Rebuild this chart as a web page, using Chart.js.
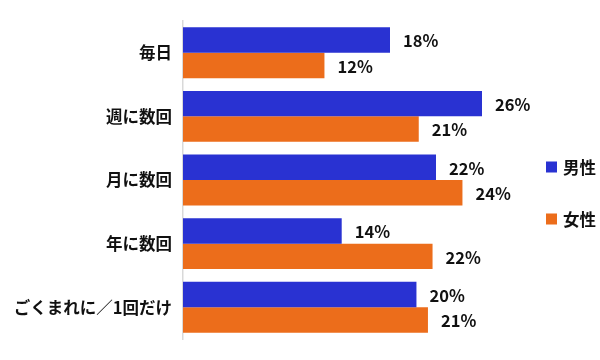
<!DOCTYPE html>
<html>
<head>
<meta charset="utf-8">
<script src="https://cdn.jsdelivr.net/npm/chart.js@4"></script>
<style>
  html, body { margin: 0; padding: 0; background: #fff; }
  #wrap { width: 600px; height: 360px; }
</style>
</head>
<body>
<div id="wrap"><canvas id="chart" width="600" height="360"></canvas></div>
<script>
// 頻度カテゴリ
const categories = ['毎日', '週に数回', '月に数回', '年に数回', 'ごくまれに／1回だけ'];
const seriesNames = ['男性', '女性'];
// 値（%）
const maleValues = [18, 26, 22, 13.8, 20.3];
const femaleValues = [12.3, 20.5, 24.3, 21.7, 21.3];
const colors = ['#2932D2', '#EC6D1B'];

const FONT = '"Noto Sans CJK JP", "Noto Sans", sans-serif';

// バー右側の数値ラベル
const valueLabels = {
    id: 'valueLabels',
    afterDatasetsDraw(chart) {
        const ctx = chart.ctx;
        ctx.save();
        ctx.font = 'bold 16.5px ' + FONT;
        ctx.fillStyle = '#111';
        ctx.textAlign = 'left';
        ctx.textBaseline = 'middle';
        chart.data.datasets.forEach((ds, i) => {
            chart.getDatasetMeta(i).data.forEach((bar, j) => {
                ctx.fillText(Math.round(ds.data[j]) + '%', bar.x + 13, bar.y + 1);
            });
        });
        ctx.restore();
    }
};

// 右側の凡例
const sideLegend = {
    id: 'sideLegend',
    afterDraw(chart) {
        const ctx = chart.ctx;
        const area = chart.chartArea;
        ctx.save();
        ctx.font = 'bold 16.5px ' + FONT;
        ctx.textBaseline = 'middle';
        chart.data.datasets.forEach((ds, i) => {
            const y = 167 + i * 52;
            const x = area.right + 18;
            ctx.fillStyle = ds.backgroundColor;
            ctx.fillRect(x, y - 5.5, 11, 11);
            ctx.fillStyle = '#111';
            ctx.fillText(ds.label, x + 17, y + 1);
        });
        ctx.restore();
    }
};

new Chart(document.getElementById('chart'), {
    type: 'bar',
    data: {
        labels: categories,
        datasets: [
            { label: seriesNames[0], data: maleValues, backgroundColor: colors[0] },
            { label: seriesNames[1], data: femaleValues, backgroundColor: colors[1] }
        ]
    },
    options: {
        indexAxis: 'y',
        responsive: false,
        animation: false,
        layout: { padding: { left: 0, right: 72, top: 18, bottom: 18 } },
        datasets: { bar: { categoryPercentage: 0.8, barPercentage: 1.0 } },
        scales: {
            x: { display: false, min: 0, max: 30 },
            y: {
                afterFit(scale) { scale.width = 183; },
                grid: { display: false, drawTicks: false },
                border: { display: true, color: '#D9D9D9', width: 1.5 },
                ticks: { padding: 11, color: '#111', font: { family: FONT, size: 16.5, weight: 'bold' } }
            }
        },
        plugins: {
            legend: { display: false },
            tooltip: { enabled: false }
        }
    },
    plugins: [valueLabels, sideLegend]
});
</script>
</body>
</html>
